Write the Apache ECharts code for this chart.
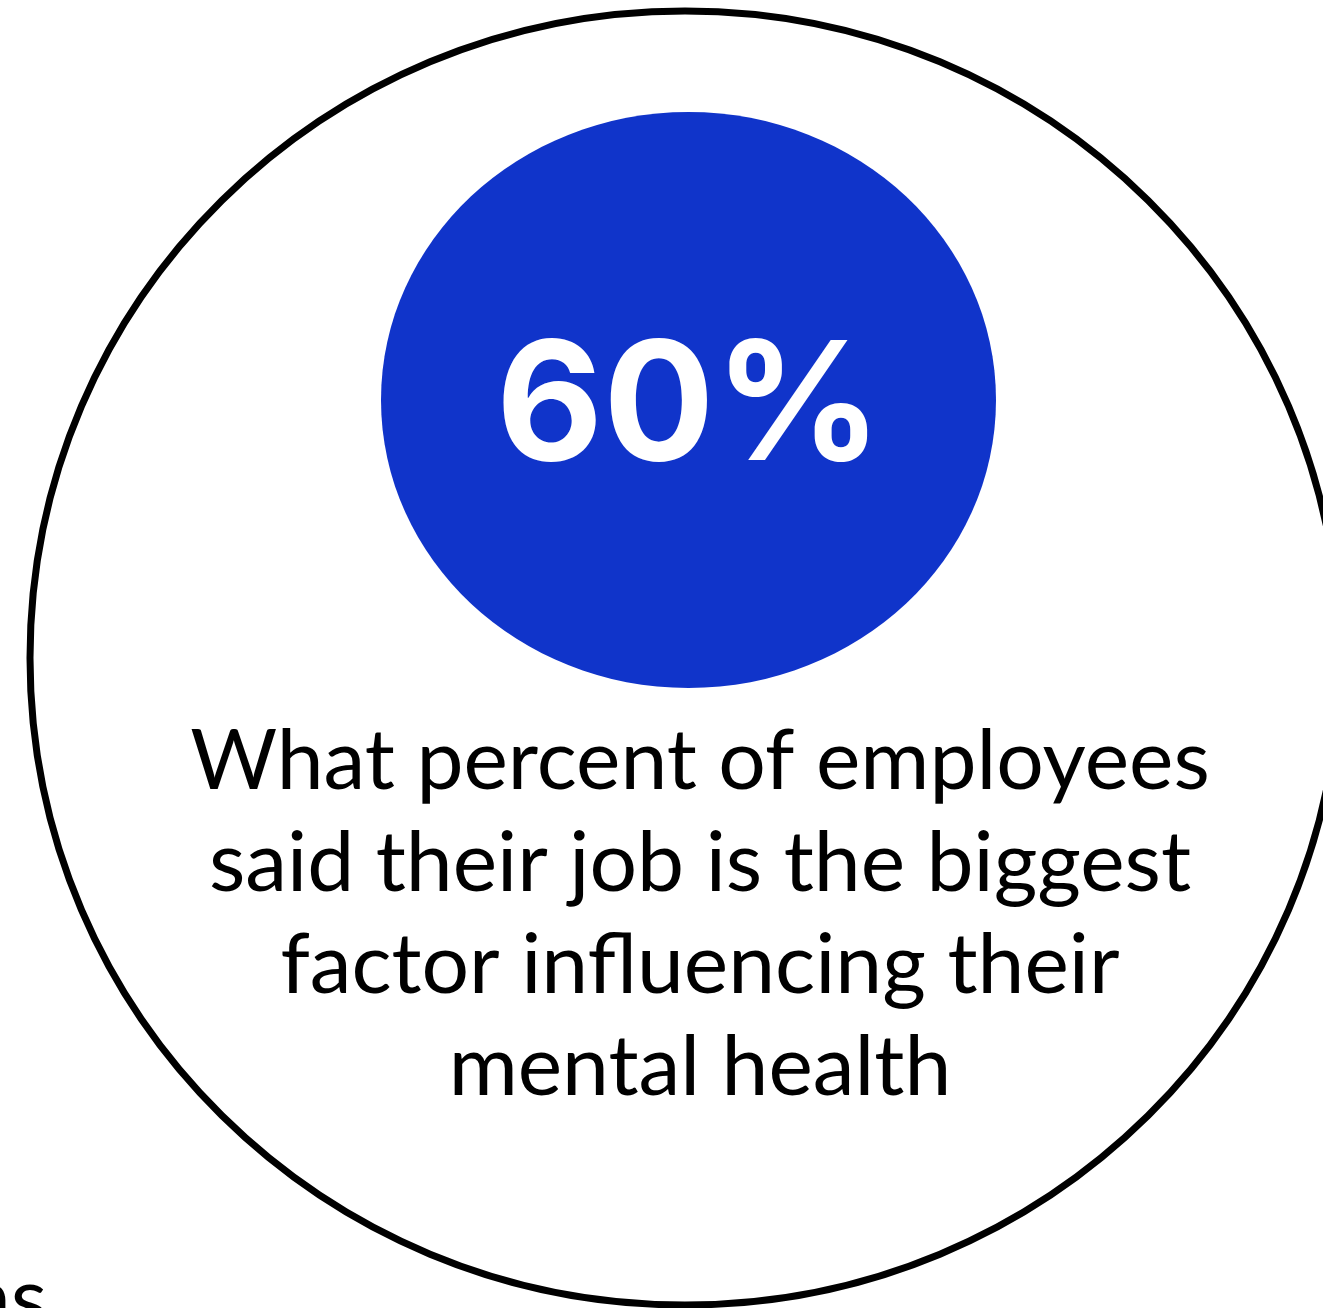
<!DOCTYPE html>
<html>
<head>
<meta charset="utf-8">
<title>Job and mental health</title>
<script src="https://cdn.jsdelivr.net/npm/echarts@6/dist/echarts.min.js"></script>
<style>
  html, body { margin: 0; padding: 0; background: #ffffff; }
  #chart { width: 1323px; height: 1308px; }
</style>
</head>
<body>
<div id="chart"></div>
<script>
// Survey figure shown in the disc
const statValue = [60];
const statUnit = '%';

// Question text, one entry per line
const questionLines = [
  'What percent of employees',
  'said their job is the biggest',
  'factor influencing their',
  'mental health'
];

// Tail of a neighbouring caption running in from the left edge
const sideFragment = ['ns'];

const chart = echarts.init(document.getElementById('chart'), null, { renderer: 'canvas' });

const BODY_FONT = 'Lato, "Noto Sans", sans-serif';
const STAT_FONT = 'Inter, "Open Sans", sans-serif';

const option = {
  backgroundColor: '#ffffff',
  animation: false,
  graphic: {
    elements: [
      {
        type: 'ellipse',
        silent: true,
        shape: { cx: 685, cy: 658, rx: 655, ry: 647 },
        style: { fill: 'none', stroke: '#000000', lineWidth: 7 }
      },
      {
        type: 'ellipse',
        silent: true,
        shape: { cx: 688.5, cy: 400, rx: 307.5, ry: 288 },
        style: { fill: '#1034CA' }
      },
      {
        type: 'text',
        silent: true,
        x: 689,
        y: 410,
        style: {
          text: statValue[0] + statUnit,
          fill: '#ffffff',
          font: '700 165px ' + STAT_FONT,
          align: 'center',
          verticalAlign: 'middle'
        }
      },
      {
        type: 'text',
        silent: true,
        x: 700,
        y: 915,
        style: {
          text: questionLines.join('\n'),
          fill: '#000000',
          font: '400 84px ' + BODY_FONT,
          lineHeight: 102,
          align: 'center',
          verticalAlign: 'middle'
        }
      },
      {
        type: 'text',
        silent: true,
        x: -36,
        y: 1300,
        style: {
          text: sideFragment[0],
          fill: '#000000',
          font: '400 84px ' + BODY_FONT,
          align: 'left',
          verticalAlign: 'middle'
        }
      }
    ]
  }
};

chart.setOption(option);
</script>
</body>
</html>
